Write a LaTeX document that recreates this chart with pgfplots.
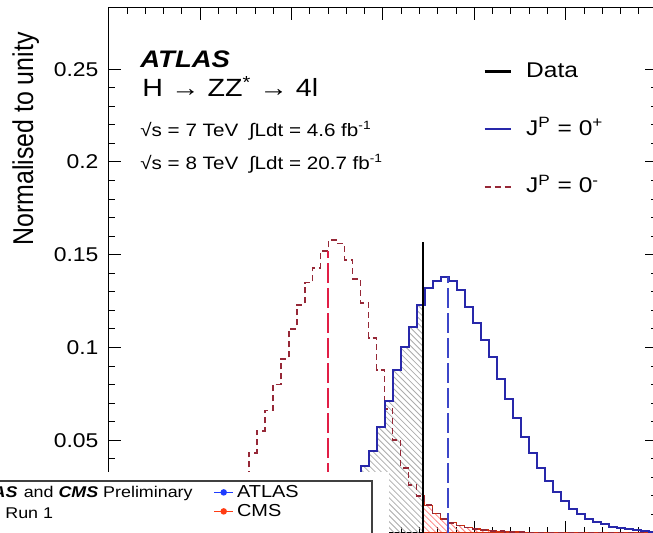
\documentclass[border=0pt]{standalone}
\usepackage{fontspec}
\setmainfont{Liberation Sans}[FakeStretch=1.15]
\newfontfamily\labfont{Liberation Sans}
\usepackage{pgfplots}
\pgfplotsset{compat=1.18}
\usetikzlibrary{patterns}

\definecolor{histblue}{RGB}{40,40,170}
\definecolor{medblue}{RGB}{60,70,200}
\definecolor{histred}{RGB}{150,40,55}
\definecolor{medred}{RGB}{225,30,70}
\definecolor{atlasblue}{RGB}{30,60,255}
\definecolor{cmsred}{RGB}{255,60,20}

% J^P = 0^+ pseudo-experiments (bin left edge, fraction)
\pgfplotstableread{
q       v
-16.45  0.0005
-15.575 0.0007
-14.7   0.001
-13.825 0.0015
-12.95  0.002
-12.075 0.003
-11.2   0.004
-10.325 0.005
-9.45   0.007
-8.575  0.009
-7.7    0.011
-6.825  0.014
-5.95   0.017
-5.075  0.021
-4.2    0.025
-3.325  0.030
-2.45   0.036
-1.575  0.044
-0.7    0.057
0.175   0.071
1.05    0.088
1.925   0.100
2.8     0.111
3.675   0.123
4.55    0.132
5.425   0.136
6.3     0.138
7.175   0.136
8.05    0.131
8.925   0.122
9.8     0.113
10.675  0.104
11.55   0.095
12.425  0.083
13.3    0.072
14.175  0.062
15.05   0.052
15.925  0.043
16.8    0.035
17.675  0.028
18.55   0.022
19.425  0.017
20.3    0.013
21.175  0.010
22.05   0.0078
22.925  0.006
23.8    0.0046
24.675  0.0035
25.55   0.0027
26.425  0.002
27.3    0.0015
28.175  0.0011
29.05   0.0008
29.925  0.0008
}\pluszero

% J^P = 0^- pseudo-experiments
\pgfplotstableread{
q       v
-25.2   0.0008
-24.325 0.0012
-23.45  0.0018
-22.575 0.0026
-21.7   0.0036
-20.825 0.005
-19.95  0.007
-19.075 0.010
-18.2   0.014
-17.325 0.019
-16.45  0.025
-15.575 0.032
-14.7   0.043
-13.825 0.055
-12.95  0.066
-12.075 0.080
-11.2   0.094
-10.325 0.110
-9.45   0.123
-8.575  0.135
-7.7    0.143
-6.825  0.152
-5.95   0.158
-5.075  0.156
-4.2    0.147
-3.325  0.137
-2.45   0.124
-1.575  0.105
-0.7    0.088
0.175   0.067
1.05    0.050
1.925   0.035
2.8     0.026
3.675   0.020
4.55    0.015
5.425   0.0105
6.3     0.0075
7.175   0.0055
8.05    0.004
8.925   0.003
9.8     0.0022
10.675  0.0016
11.55   0.0012
12.425  0.0009
13.3    0.0007
14.175  0.0005
15.05   0.0004
15.925  0.0003
16.8    0.0003
17.675  0.0002
18.55   0.0002
19.425  0.0001
29.925  0.0001
}\minuszero

\begin{document}
\begin{tikzpicture}[x=0.5bp, y=0.5bp]
\useasboundingbox (0,0) rectangle (653,533);
\clip (0,0) rectangle (653,533);

\begin{axis}[
    at={(119,0)}, anchor=south west,
    scale only axis, width=274.2bp, height=262.5bp,
    xmin=-30, xmax=30, ymin=0, ymax=0.283,
    xtick={-30,-20,-10,0,10,20,30}, xticklabels={},
    ytick={0,0.05,0.1,0.15,0.2,0.25},
    minor x tick num=4, minor y tick num=4,
    tick pos=both, yticklabel pos=left, tick align=inside,
    major tick length=6bp, minor tick length=3bp,
    axis line style={line width=0.5bp},
    every tick/.style={black, line width=0.5bp},
    yticklabel style={font=\fontsize{10}{12}\selectfont, inner sep=0pt, xshift=-5bp,
        /pgf/number format/.cd, fixed, precision=2, assume math mode=true},
    legend style={draw=none, fill=none, at={(rel axis cs:0.682,0.898)}, anchor=north west,
        font=\fontsize{10.7}{12}\selectfont, inner sep=0pt, row sep=18.75bp, column sep=7bp,
        nodes={inner sep=0pt, text height=8bp, text depth=2bp}},
    legend image code/.code={\draw[#1] (0bp,0bp) -- (13bp,0bp);},
    legend cell align=left,
]
\addlegendimage{black, line width=1.5bp}
\addlegendentry{Data}
\addlegendimage{histblue, line width=1bp}
\addlegendentry{J\textsuperscript{P} = 0\textsuperscript{+}}
\addlegendimage{histred, line width=0.9bp, dash pattern=on 3bp off 2bp}
\addlegendentry{J\textsuperscript{P} = 0\textsuperscript{-}}

% hatched tails beyond the observed value
\addplot[const plot, draw=none, pattern=north west lines, pattern color=gray!65]
    coordinates {(-16.45,0.0005) (-15.575,0.0007) (-14.7,0.001) (-13.825,0.0015)
    (-12.95,0.002) (-12.075,0.003) (-11.2,0.004) (-10.325,0.005) (-9.45,0.007)
    (-8.575,0.009) (-7.7,0.011) (-6.825,0.014) (-5.95,0.017) (-5.075,0.021)
    (-4.2,0.025) (-3.325,0.030) (-2.45,0.036) (-1.575,0.044) (-0.7,0.057)
    (0.175,0.071) (1.05,0.088) (1.925,0.100) (2.8,0.111) (3.675,0.123) (4.36,0.123)}
    \closedcycle;
\addplot[const plot, draw=cmsred!80!black, line width=0.6bp, pattern=north west lines, pattern color=red!50]
    coordinates {(4.36,0.020) (4.55,0.015) (5.425,0.0105) (6.3,0.0075) (7.175,0.0055)
    (8.05,0.004) (8.925,0.003) (9.8,0.0022) (10.675,0.0016) (11.55,0.0012)
    (12.425,0.0009) (13.3,0.0007) (14.175,0.0005) (15.05,0.0004) (15.925,0.0003)
    (17.675,0.0002) (19.425,0.0001) (29.925,0.0001)}
    \closedcycle;

% histograms
\addplot[const plot, histred, line width=0.9bp, dash pattern=on 3bp off 2bp] table[x=q, y=v] {\minuszero};
\addplot[const plot, histblue, line width=1bp] table[x=q, y=v] {\pluszero};

% medians and observed value
\addplot[medred, line width=1bp, dash pattern=on 10bp off 2.5bp] coordinates {(-6.04,0) (-6.04,0.152)};
\addplot[medblue, line width=1bp, dash pattern=on 10bp off 2.5bp] coordinates {(7.09,0) (7.09,0.138)};
\addplot[black, line width=1bp] coordinates {(4.36,0) (4.36,0.157)};
\end{axis}

% y axis title
\node[rotate=90, anchor=base east, inner sep=0pt] at (33,501)
    {\scalebox{1}[1.15]{\labfont\fontsize{12.5}{15}\selectfont Normalised to unity}};

% labels inside the frame
\node[anchor=base west, inner sep=0pt, font=\fontsize{12}{14}\selectfont\bfseries\itshape] at (140,465) {ATLAS};
\node[anchor=base west, inner sep=0pt, font=\fontsize{12.5}{15}\selectfont] at (142,436) {H → ZZ\textsuperscript{*} → 4l};
\node[anchor=base west, inner sep=0pt, font=\fontsize{9}{11}\selectfont] at (140,396)
    {√s = 7 TeV\hspace{0.6em}∫Ldt = 4.6 fb\textsuperscript{-1}};
\node[anchor=base west, inner sep=0pt, font=\fontsize{9}{11}\selectfont] at (140,363)
    {√s = 8 TeV\hspace{0.6em}∫Ldt = 20.7 fb\textsuperscript{-1}};

% overlaid inset from the combination figure
\begin{axis}[
    at={(0,0)}, anchor=south west,
    scale only axis, width=326.5bp, height=266.5bp,
    xmin=0, xmax=653, ymin=0, ymax=533,
    hide axis, clip=false,
    legend style={draw=none, fill=none, at={(axis cs:213,49)}, anchor=north west,
        font=\fontsize{8.7}{10}\selectfont, inner sep=0pt, row sep=1.5bp, column sep=1.5bp,
        nodes={inner sep=0pt, text height=6.5bp, text depth=1.5bp}},
    legend image code/.code={\draw[#1] (0bp,0bp) -- (9.5bp,0bp); \draw[#1, fill] (4.75bp,0bp) circle (1.2bp);},
    legend cell align=left,
]
\fill[white] (axis cs:-10,-10) rectangle (axis cs:389,61);
\draw[black!75, line width=0.6bp] (axis cs:-10,-10) rectangle (axis cs:372,52);
\node[anchor=base east, inner sep=0pt, font=\fontsize{7.8}{9}\selectfont] at (axis cs:193,35)
    {\textbf{\textit{ATLAS}}\hspace{0.4em}and \textbf{\textit{CMS}} Preliminary};
\node[anchor=base west, inner sep=0pt, font=\fontsize{7.8}{9}\selectfont] at (axis cs:5,14) {Run 1};
\addlegendimage{atlasblue, line width=0.8bp}
\addlegendentry{ATLAS}
\addlegendimage{cmsred, line width=0.8bp}
\addlegendentry{CMS}
\end{axis}
\end{tikzpicture}
\end{document}
